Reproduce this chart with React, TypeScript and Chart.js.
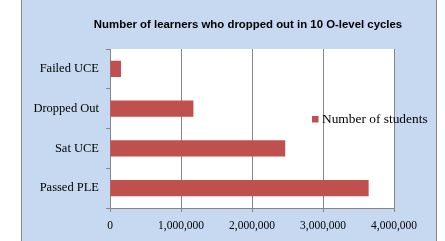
import React, { useEffect, useRef } from "react";
import { Chart, registerables } from "chart.js";

Chart.register(...registerables);

const categories = ["Failed UCE", "Dropped Out", "Sat UCE", "Passed PLE"];
const students = [155000, 1175000, 2468000, 3643000];
const xTicks = [0, 1000000, 2000000, 3000000, 4000000];
const seriesName = "Number of students";
const titleText = "Number of learners who dropped out in 10 O-level cycles";

const BLUE = "#C6D9F1";
const BAR = "#C0504D";
const GRAY = "#868686";

const decorPlugin = {
  id: "decor",
  beforeDraw(chart: any) {
    const { ctx, chartArea } = chart;
    ctx.save();
    ctx.fillStyle = "#ffffff";
    ctx.fillRect(0, 0, chart.width, chart.height);
    ctx.fillStyle = BLUE;
    ctx.fillRect(21, -2, 415, chart.height + 4);
    ctx.strokeStyle = GRAY;
    ctx.lineWidth = 1;
    ctx.strokeRect(21.5, -2, 415, chart.height + 4);
    ctx.fillStyle = "#ffffff";
    ctx.fillRect(chartArea.left, chartArea.top, chartArea.right - chartArea.left, chartArea.bottom - chartArea.top);
    ctx.restore();
  },
  afterDraw(chart: any) {
    const { ctx } = chart;
    ctx.save();
    ctx.fillStyle = "#000000";
    ctx.font = "bold 11.4px 'Liberation Sans', Arial, sans-serif";
    ctx.textAlign = "center";
    ctx.textBaseline = "middle";
    ctx.fillText(titleText, 248, 25);
    ctx.fillStyle = BAR;
    ctx.fillRect(312, 116, 6.5, 6.5);
    ctx.fillStyle = "#000000";
    ctx.font = "13.4px 'Liberation Serif', serif";
    ctx.textAlign = "left";
    ctx.fillText(chart.data.datasets[0].label, 322, 119.5);
    ctx.restore();
  },
};

export default function App() {
  const ref = useRef<HTMLCanvasElement | null>(null);
  useEffect(() => {
    document.body.style.margin = "0";
    const canvas = ref.current;
    if (!canvas) return;
    const chart = new Chart(canvas, {
      type: "bar",
      data: {
        labels: categories,
        datasets: [
          {
            label: seriesName,
            data: students,
            backgroundColor: BAR,
            borderWidth: 0,
            barPercentage: 0.41,
            categoryPercentage: 1,
          },
        ],
      },
      options: {
        indexAxis: "y",
        animation: false,
        responsive: false,
        devicePixelRatio: 1,
        layout: { padding: { left: 0, right: 445 - 394, top: 49, bottom: 0 } },
        plugins: {
          legend: { display: false },
          title: { display: false },
          tooltip: { enabled: false },
        },
        scales: {
          x: {
            min: 0,
            max: 4000000,
            afterFit(scale: any) {
              scale.height = 33;
            },
            afterBuildTicks(scale: any) {
              scale.ticks = xTicks.map((v) => ({ value: v }));
            },
            grid: {
              color: GRAY,
              lineWidth: 1,
              drawTicks: true,
              tickLength: 4,
              tickColor: GRAY,
            },
            border: { display: true, color: GRAY, width: 1 },
            ticks: {
              color: "#000000",
              padding: 7,
              font: { family: "'Liberation Serif', serif", size: 11.5 },
              callback: (v: any) => Number(v).toLocaleString("en-US"),
              maxRotation: 0,
              autoSkip: false,
            },
          },
          y: {
            afterFit(scale: any) {
              scale.width = 110;
            },
            grid: {
              drawOnChartArea: false,
              drawTicks: true,
              tickLength: 4,
              tickColor: GRAY,
              color: GRAY,
            },
            border: { display: true, color: GRAY, width: 1 },
            ticks: {
              color: "#000000",
              padding: 7,
              font: { family: "'Liberation Serif', serif", size: 12.5 },
            },
          },
        },
      },
      plugins: [decorPlugin],
    });
    return () => chart.destroy();
  }, []);
  return (
    <div style={{ width: 445, height: 241 }}>
      <canvas ref={ref} width={445} height={241} style={{ display: "block", width: 445, height: 241 }} />
    </div>
  );
}
